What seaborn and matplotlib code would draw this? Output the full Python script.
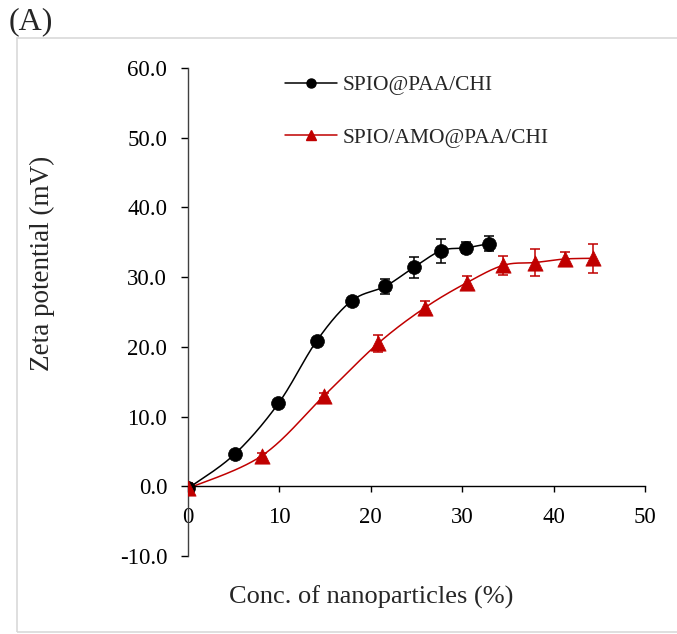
import numpy as np
import pandas as pd
import seaborn as sns
import matplotlib
matplotlib.use("Agg")
import matplotlib.pyplot as plt
from matplotlib.patches import Rectangle

# Zeta potential vs nanoparticle concentration
conc_plain = [0.0, 5.1, 9.9, 14.1, 17.9, 21.6, 24.7, 27.7, 30.4, 32.9]
zeta_plain = [-0.3, 4.6, 11.9, 20.9, 26.6, 28.7, 31.4, 33.8, 34.2, 34.8]
err_plain = [0.6, 0.3, 0.3, 0.4, 0.4, 1.1, 1.5, 1.7, 0.8, 1.1]

conc_amo = [0.0, 8.1, 14.9, 20.8, 25.9, 30.5, 34.5, 38.0, 41.2, 44.3]
zeta_amo = [-0.3, 4.4, 13.0, 20.5, 25.6, 29.2, 31.7, 32.1, 32.6, 32.7]
err_amo = [0.7, 0.4, 0.4, 1.2, 1.0, 1.0, 1.4, 2.0, 1.0, 2.1]

labels = ["SPIO@PAA/CHI", "SPIO/AMO@PAA/CHI"]
x_ticks = [0, 10, 20, 30, 40, 50]
y_ticks = [-10, 0, 10, 20, 30, 40, 50, 60]

sns.set_theme(style="white")
plt.rcParams["font.family"] = ["Liberation Serif", "DejaVu Serif"]


def smooth_curve(xs, ys, n=30):
    """Catmull-Rom style Bezier smoothing through the given points."""
    p = np.column_stack([xs, ys]).astype(float)
    ext = np.vstack([p[0], p, p[-1]])
    out = []
    t = np.linspace(0, 1, n)[:, None]
    for i in range(1, len(ext) - 2):
        p0, p1, p2, p3 = ext[i - 1], ext[i], ext[i + 1], ext[i + 2]
        c1 = p1 + (p2 - p0) / 6.0
        c2 = p2 - (p3 - p1) / 6.0
        seg = ((1 - t) ** 3) * p1 + 3 * ((1 - t) ** 2) * t * c1 \
            + 3 * (1 - t) * t ** 2 * c2 + t ** 3 * p2
        out.append(seg if i == 1 else seg[1:])
    c = np.vstack(out)
    return c[:, 0], c[:, 1]


fig = plt.figure(figsize=(6.77, 6.34), dpi=100)
fig.patch.set_facecolor("white")
fig.add_artist(Rectangle((17 / 677, 1 - 632 / 634), 1.0, (632 - 38) / 634,
                         transform=fig.transFigure, fill=False,
                         edgecolor="#d9d9d9", linewidth=1.2))
fig.text(9 / 677, 1 - 22 / 634, "(A)", fontsize=23, va="center", ha="left")

ax = fig.add_axes([188 / 677, 1 - 556 / 634, (645 - 188) / 677, (556 - 68) / 634])
ax.set_facecolor("none")

series = [
    (conc_plain, zeta_plain, err_plain, "black", "o", 10, 6.5),
    (conc_amo, zeta_amo, err_amo, "#c00000", "^", 11, 7),
]
for (xs, ys, es, col, mk, ms, lms), lab in zip(series, labels):
    sx, sy = smooth_curve(xs, ys)
    curve = pd.DataFrame({"x": sx, "y": sy})
    sns.lineplot(data=curve, x="x", y="y", sort=False, color=col,
                 linewidth=1.1, ax=ax, zorder=2)
    ax.errorbar(xs, ys, yerr=es, fmt="none", ecolor=col, elinewidth=1.1,
                capsize=3.8, capthick=1.1, zorder=3)
    pts = pd.DataFrame({"x": xs, "y": ys})
    sns.scatterplot(data=pts, x="x", y="y", color=col, marker=mk,
                    s=ms ** 2, edgecolor=col, linewidth=0.5, ax=ax, zorder=4)
    ax.plot([], [], color=col, marker=mk, markersize=lms, linewidth=1.1,
            label=lab)

ax.set_xlim(0, 50)
ax.set_ylim(-10, 60)
ax.set_xticks(x_ticks)
ax.set_yticks(y_ticks)
ax.set_xticklabels([str(v) for v in x_ticks])
ax.set_yticklabels([f"{v:.1f}" for v in y_ticks])

for s in ["top", "right"]:
    ax.spines[s].set_visible(False)
ax.spines["bottom"].set_position(("data", 0))
ax.spines["left"].set_color("#404040")
ax.spines["bottom"].set_color("black")
ax.spines["left"].set_linewidth(1.0)
ax.spines["bottom"].set_linewidth(1.0)

ax.tick_params(axis="both", which="major", labelsize=16.5, colors="black",
               direction="out", width=1.0)
ax.tick_params(axis="x", pad=11, length=4, bottom=True)
ax.tick_params(axis="y", pad=10, length=5, left=True)
ax.grid(False)

ax.set_xlabel("")
ax.set_ylabel("")
fig.text(371 / 677, 1 - 597 / 634,
         "Conc. of nanoparticles (%)", fontsize=19, ha="center", va="center")
fig.text(42 / 677, 1 - 263 / 634, "Zeta potential (mV)", fontsize=19.5,
         ha="center", va="center", rotation=90)

leg = ax.legend(loc="upper left", bbox_to_anchor=((285 - 188) / 457, 0.985),
                frameon=False, fontsize=15.5, handlelength=2.4,
                handletextpad=0.3, labelspacing=1.5, borderaxespad=0,
                borderpad=0)

fig.savefig("out.png", dpi=100, facecolor="white")
